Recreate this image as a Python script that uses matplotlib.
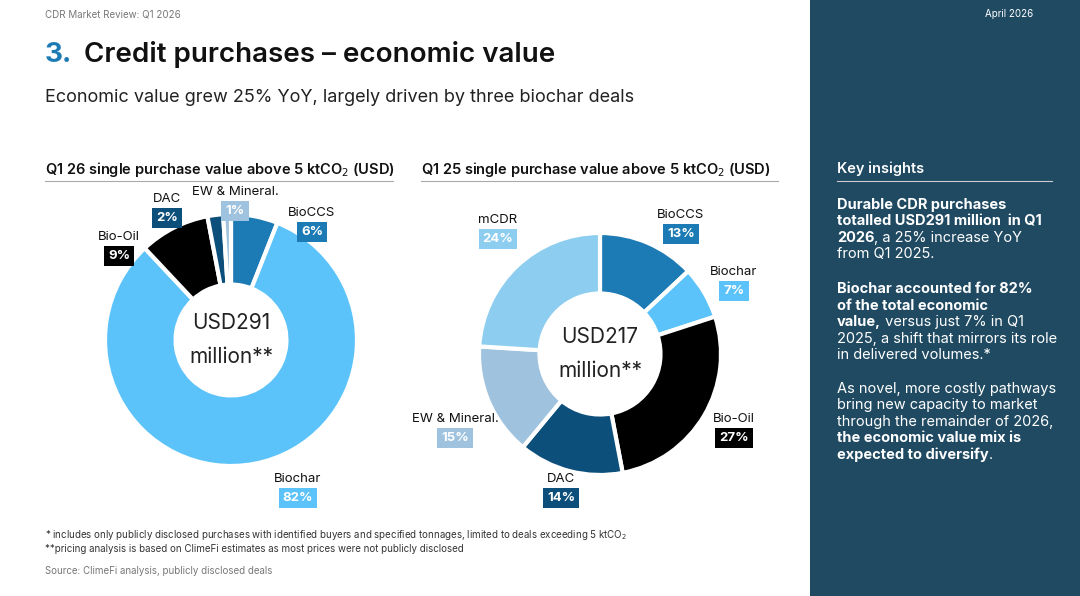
import matplotlib
matplotlib.use("Agg")
import matplotlib.pyplot as plt

plt.rcParams['font.family'] = ['Inter', 'DejaVu Sans']

# Q1 2026 data
q126_labels = ['BioCCS', 'Biochar', 'Bio-Oil', 'DAC', 'EW & Mineral.']
q126_values = [6, 82, 9, 2, 1]
# Q1 2025 data
q125_labels = ['BioCCS', 'Biochar', 'Bio-Oil', 'DAC', 'EW & Mineral.', 'mCDR']
q125_values = [13, 7, 27, 14, 15, 24]

colors = {'BioCCS': '#1c7bb4', 'Biochar': '#5cc3fa', 'Bio-Oil': '#000000',
          'DAC': '#0d4f7b', 'EW & Mineral.': '#9fc2de', 'mCDR': '#8dcdf0'}
# label anchor (px) for each slice
pos126 = {'BioCCS': (312, 226), 'Biochar': (298, 492), 'Bio-Oil': (119, 250),
          'DAC': (167, 212), 'EW & Mineral.': (235, 205)}
pos125 = {'BioCCS': (681, 228), 'Biochar': (734, 285), 'Bio-Oil': (734, 432),
          'DAC': (561, 492), 'EW & Mineral.': (455, 432), 'mCDR': (498, 233)}

W, H = 1080, 596
fig = plt.figure(figsize=(W / 100, H / 100), dpi=100)
fig.patch.set_facecolor('white')
renderer = fig.canvas.get_renderer()


def fx(x):
    return x / W


def fy(y):
    return 1 - y / H


def txt(x, y, s, **kw):
    return fig.text(fx(x), fy(y), s, **kw)


def rich(x, y, lines, size=10.5, step=16.5):
    # lines: list of list of (text, bold)
    for i, line in enumerate(lines):
        cx = x
        for s, b in line:
            t = txt(cx, y + i * step, s, fontsize=size, color='white', va='top',
                    fontweight='bold' if b else 'normal')
            cx += t.get_window_extent(renderer).width


# right panel
bg = fig.add_axes([fx(810), 0, 1 - fx(810), 1])
bg.set_facecolor('#1f4a62')
bg.set_xticks([]); bg.set_yticks([])
for sp in bg.spines.values():
    sp.set_visible(False)

txt(45, 14, 'CDR Market Review: Q1 2026', fontsize=7, color='#777777', va='center')
txt(1033, 14, 'April 2026', fontsize=7, color='white', va='center', ha='right')
txt(45, 55, '3.', fontsize=20, color='#1c7bb4', va='center', fontweight='bold')
txt(84, 55, 'Credit purchases – economic value', fontsize=20, color='#111111', va='center',
    fontweight='semibold')
txt(45, 98, 'Economic value grew 25% YoY, largely driven by three biochar deals',
    fontsize=13, color='#222222', va='center')

txt(45, 169, 'Q1 26 single purchase value above 5 ktCO$_2$ (USD)', fontsize=10.5,
    color='#111111', va='center', fontweight='semibold')
txt(421, 169, 'Q1 25 single purchase value above 5 ktCO$_2$ (USD)', fontsize=10.5,
    color='#111111', va='center', fontweight='semibold')
fig.add_artist(plt.Line2D([fx(45), fx(393)], [fy(181)] * 2, color='#aaaaaa', lw=0.8))
fig.add_artist(plt.Line2D([fx(421), fx(778)], [fy(181)] * 2, color='#aaaaaa', lw=0.8))


def donut(cx, cy, r, hole, labels, values, pos, center):
    ax = fig.add_axes([fx(cx - r), fy(cy + r), 2 * r / W, 2 * r / H])
    ax.pie(values, colors=[colors[l] for l in labels], startangle=90, counterclock=False,
           wedgeprops=dict(width=1 - hole, edgecolor='white', linewidth=3))
    ax.set_xlim(-1, 1); ax.set_ylim(-1, 1)
    ax.set_aspect('equal')
    txt(cx, cy, center, fontsize=15, color='#222222', ha='center', va='center',
        linespacing=1.9)
    for l, v in zip(labels, values):
        x, y = pos[l]
        txt(x, y - 13, l, fontsize=9.5, color='#111111', ha='center', va='center')
        txt(x, y + 6, f'{v}%', fontsize=9.5, color='white', ha='center', va='center',
            fontweight='bold',
            bbox=dict(boxstyle='square,pad=0.3', fc=colors[l], ec='none'))


donut(231, 340, 126, 0.44, q126_labels, q126_values, pos126, 'USD291\nmillion**')
donut(600, 354, 121, 0.5, q125_labels, q125_values, pos125, 'USD217\nmillion**')

txt(45, 535, '* includes only publicly disclosed purchases with identified buyers and specified '
    'tonnages, limited to deals exceeding 5 ktCO$_2$', fontsize=7, color='#333333', va='center')
txt(45, 549, '**pricing analysis is based on ClimeFi estimates as most prices were not publicly '
    'disclosed', fontsize=7, color='#333333', va='center')
txt(45, 571, 'Source: ClimeFi analysis, publicly disclosed deals', fontsize=7,
    color='#777777', va='center')

# key insights
txt(837, 169, 'Key insights', fontsize=10.5, color='white', va='center', fontweight='semibold')
fig.add_artist(plt.Line2D([fx(837), fx(1052)], [fy(181)] * 2, color='#cccccc', lw=0.8))
rich(837, 198, [[('Durable CDR purchases', True)],
                [('totalled USD291 million  in Q1', True)],
                [('2026', True), (', a 25% increase YoY', False)],
                [('from Q1 2025.', False)]])
rich(837, 282, [[('Biochar accounted for 82%', True)],
                [('of the total economic', True)],
                [('value,', True), (' versus just 7% in Q1', False)],
                [('2025, a shift that mirrors its role', False)],
                [('in delivered volumes.*', False)]])
rich(837, 382, [[('As novel, more costly pathways', False)],
                [('bring new capacity to market', False)],
                [('through the remainder of 2026,', False)],
                [('the economic value mix is', True)],
                [('expected to diversify', True), ('.', False)]])

fig.savefig('out.png', dpi=100)
